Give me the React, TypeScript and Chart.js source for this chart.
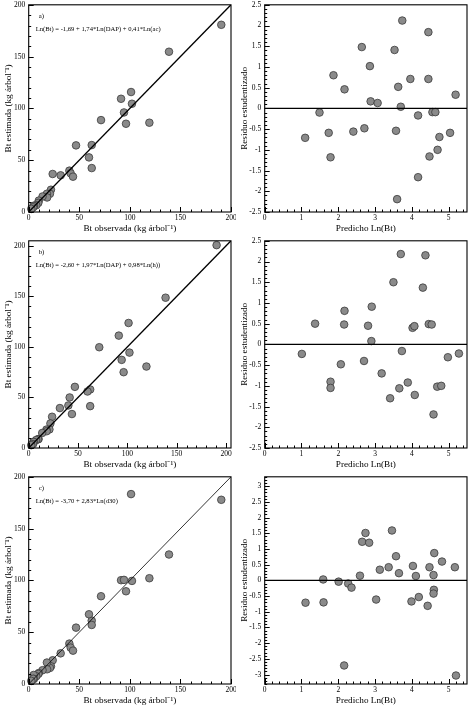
import React, { useEffect, useRef } from "react";
import { Chart, registerables } from "chart.js";

Chart.register(...registerables);

// ---------- data ----------
const observed = [190.4, 138.7, 101.2, 91.3, 102.1, 94.2, 96.2, 119.3, 71.5, 46.8, 62.3, 59.6, 62.3, 23.7, 31.6, 40.2, 41.5, 43.8, 22.0, 21.0, 18.0, 18.2, 13.7, 10.0, 9.5, 7.5, 4.9, 5.2, 4.4, 2.6];
const estimatedA = [180.7, 154.7, 115.8, 109.3, 104.5, 96.1, 85.2, 86.2, 88.7, 64.3, 64.6, 52.7, 42.4, 36.7, 35.4, 39.9, 37.3, 34.1, 21.5, 17.6, 17.6, 14.0, 15.0, 11.0, 8.8, 6.5, 6.0, 5.8, 4.5, 3.0];
const estimatedB = [200.7, 148.7, 123.7, 111.2, 94.4, 87.2, 75.0, 80.6, 99.7, 60.5, 57.9, 55.9, 41.4, 30.9, 39.5, 42.1, 50.0, 33.6, 24.3, 18.4, 18.2, 16.6, 14.9, 8.8, 8.7, 7.9, 6.0, 6.0, 3.9, 2.8];
const estimatedC = [177.8, 125.0, 183.3, 100.2, 99.5, 100.5, 89.5, 102.1, 84.7, 54.4, 61.2, 67.3, 57.0, 22.9, 29.6, 39.0, 35.1, 32.2, 17.1, 15.5, 20.7, 14.2, 13.3, 10.6, 9.7, 7.5, 8.7, 4.9, 5.0, 3.0];

const predictedA = [1.10, 1.49, 1.74, 1.79, 1.87, 2.17, 2.41, 2.64, 2.71, 2.86, 2.88, 3.07, 3.53, 3.57, 3.60, 3.63, 3.70, 3.74, 3.96, 4.17, 4.17, 4.45, 4.45, 4.48, 4.56, 4.64, 4.70, 4.75, 5.04, 5.19];
const residualA = [-0.71, -0.10, -0.59, -1.18, 0.80, 0.46, -0.56, 1.48, -0.48, 1.02, 0.17, 0.13, 1.41, -0.54, -2.19, 0.52, 0.04, 2.12, 0.71, -0.17, -1.66, 0.71, 1.84, -1.16, -0.09, -0.09, -1.00, -0.69, -0.59, 0.33];
const predictedB = [1.37, 2.17, 2.16, 2.81, 2.91, 2.90, 3.50, 3.70, 4.30, 4.37, 4.02, 4.07, 4.46, 4.54, 1.01, 2.07, 2.70, 1.79, 1.79, 3.18, 3.73, 3.41, 3.66, 3.89, 4.08, 4.59, 4.69, 4.80, 4.98, 5.28];
const residualB = [0.50, 0.81, 0.48, 0.45, 0.91, 0.08, 1.50, 2.18, 1.37, 2.15, 0.40, 0.44, 0.49, 0.48, -0.23, -0.48, -0.40, -0.90, -1.05, -0.70, -0.16, -1.30, -1.06, -0.92, -1.22, -1.69, -1.02, -1.00, -0.31, -0.22];
const predictedC = [1.11, 1.59, 1.60, 2.01, 2.27, 2.36, 2.16, 2.59, 2.65, 2.74, 2.84, 3.03, 3.13, 3.37, 3.46, 3.57, 3.65, 4.03, 3.99, 4.11, 4.19, 4.43, 4.48, 4.59, 4.60, 4.59, 4.61, 4.82, 5.17, 5.20];
const residualC = [-0.71, 0.03, -0.70, -0.04, -0.10, -0.23, -2.71, 0.15, 1.23, 1.51, 1.20, -0.61, 0.34, 0.42, 1.59, 0.77, 0.23, 0.46, -0.67, 0.14, -0.53, -0.81, 0.42, 0.17, -0.30, -0.42, 0.87, 0.60, 0.42, -3.03];

const biomassTicks = [0, 50, 100, 150, 200];
const predictedTicks = [0, 1, 2, 3, 4, 5];
const residualTicksAB = [-2.5, -2, -1.5, -1, -0.5, 0, 0.5, 1, 1.5, 2, 2.5];
const residualTicksC = [-3, -2.5, -2, -1.5, -1, -0.5, 0, 0.5, 1, 1.5, 2, 2.5, 3];

const panelLabels = ["a)", "b)", "c)"];
const equations = [
  "Ln(Bt) = -1,69 + 1,74*Ln(DAP) + 0,41*Ln(ac)",
  "Ln(Bt) = -2,60 + 1,97*Ln(DAP) + 0,98*Ln(h))",
  "Ln(Bt) = -3,70 + 2,83*Ln(d30)",
];

const xTitleObs = "Bt observada (kg árbol⁻¹)";
const yTitleEst = "Bt estimada (kg árbol⁻¹)";
const xTitlePred = "Predicho Ln(Bt)";
const yTitleRes = "Residuo estudentizado";

// ---------- style ----------
const FONT = "'Liberation Serif', 'Times New Roman', serif";
const SIZE = 236;

type PanelCfg = {
  xs: number[];
  ys: number[];
  refLine: { x: number[]; y: number[] };
  refWidth: number;
  xMin: number; xMax: number; yMin: number; yMax: number;
  xTicks: number[]; yTicks: number[];
  xMinor: number; yMinor: number;
  xMajor: number; yMajor: number;
  xTitle: string; yTitle: string;
  label?: string; equation?: string;
};

function decoPlugin(cfg: PanelCfg) {
  return {
    id: "deco",
    afterDraw(chart: any) {
      const { ctx, chartArea: a, scales } = chart;
      ctx.save();
      ctx.strokeStyle = "#000";
      ctx.lineWidth = 1;
      // minor & major ticks, inward
      const drawTicks = (min: number, max: number, minor: number, major: number, horiz: boolean) => {
        const start = Math.ceil(min / minor - 1e-6);
        const end = Math.floor(max / minor + 1e-6);
        for (let i = start; i <= end; i++) {
          const v = i * minor;
          const r = v / major;
          const isMajor = Math.abs(r - Math.round(r)) < 1e-6;
          const len = isMajor ? 5 : 2.5;
          ctx.beginPath();
          if (horiz) {
            const px = Math.round(scales.x.getPixelForValue(v)) + 0.5;
            ctx.moveTo(px, a.bottom);
            ctx.lineTo(px, a.bottom - len);
          } else {
            const py = Math.round(scales.y.getPixelForValue(v)) + 0.5;
            ctx.moveTo(a.left, py);
            ctx.lineTo(a.left + len, py);
          }
          ctx.stroke();
        }
      };
      drawTicks(cfg.xMin, cfg.xMax, cfg.xMinor, cfg.xMajor, true);
      drawTicks(cfg.yMin, cfg.yMax, cfg.yMinor, cfg.yMajor, false);
      ctx.lineWidth = 1.1;
      ctx.strokeRect(a.left, a.top, a.right - a.left, a.bottom - a.top);
      if (cfg.label || cfg.equation) {
        ctx.fillStyle = "#000";
        ctx.textBaseline = "middle";
        ctx.textAlign = "left";
        ctx.font = `6.8px ${FONT}`;
        if (cfg.label) ctx.fillText(cfg.label, a.left + 10, a.top + 11.5);
        ctx.font = `6.6px ${FONT}`;
        if (cfg.equation) ctx.fillText(cfg.equation, a.left + 7, a.top + 24.5);
      }
      ctx.restore();
    },
  };
}

function buildConfig(cfg: PanelCfg): any {
  const tickFont = { family: FONT, size: 7.5 };
  const titleFont = { family: FONT, size: 9.2 };
  return {
    type: "scatter",
    data: {
      datasets: [
        {
          type: "line",
          data: cfg.refLine.x.map((x, i) => ({ x, y: cfg.refLine.y[i] })),
          borderColor: "#000",
          borderWidth: cfg.refWidth,
          pointRadius: 0,
          fill: false,
          order: 0,
        },
        {
          type: "scatter",
          data: cfg.xs.map((x, i) => ({ x, y: cfg.ys[i] })),
          backgroundColor: "#8a8a8a",
          borderColor: "#3a3a3a",
          borderWidth: 0.8,
          pointRadius: 3.8,
          clip: false,
          order: 1,
        },
      ],
    },
    options: {
      responsive: false,
      animation: false,
      events: [],
      layout: { padding: { top: 4.7, right: 5, bottom: 0, left: 0 } },
      plugins: { legend: { display: false }, tooltip: { enabled: false } },
      scales: {
        x: {
          type: "linear",
          min: cfg.xMin,
          max: cfg.xMax,
          afterBuildTicks: (s: any) => {
            s.ticks = cfg.xTicks.map((v) => ({ value: v }));
          },
          afterFit: (s: any) => {
            s.height = 24;
            s.paddingLeft = 0; s.paddingRight = 0; s.paddingTop = 0; s.paddingBottom = 0;
          },
          grid: { display: false, drawTicks: false },
          border: { display: false },
          ticks: {
            autoSkip: false,
            maxRotation: 0,
            padding: 2,
            color: "#000",
            font: tickFont,
            callback: (v: any) => String(v),
          },
          title: { display: true, text: cfg.xTitle, color: "#000", font: titleFont, padding: { top: 0, bottom: 2 } },
        },
        y: {
          type: "linear",
          min: cfg.yMin,
          max: cfg.yMax,
          afterBuildTicks: (s: any) => {
            s.ticks = cfg.yTicks.map((v) => ({ value: v }));
          },
          afterFit: (s: any) => {
            s.width = 28.7;
            s.paddingLeft = 0; s.paddingRight = 0; s.paddingTop = 0; s.paddingBottom = 0;
          },
          grid: { display: false, drawTicks: false },
          border: { display: false },
          ticks: {
            autoSkip: false,
            padding: 3.5,
            color: "#000",
            font: tickFont,
            callback: (v: any) => String(v),
          },
          title: { display: true, text: cfg.yTitle, color: "#000", font: titleFont, padding: { top: 3.5, bottom: 0 } },
        },
      },
    },
    plugins: [decoPlugin(cfg)],
  };
}

function Panel({ left, top, cfg }: { left: number; top: number; cfg: PanelCfg }) {
  const ref = useRef<HTMLCanvasElement>(null);
  useEffect(() => {
    const chart = new Chart(ref.current as HTMLCanvasElement, buildConfig(cfg));
    return () => chart.destroy();
  }, []);
  return (
    <canvas
      ref={ref}
      width={SIZE}
      height={SIZE}
      style={{ position: "absolute", left, top, width: SIZE, height: SIZE }}
    />
  );
}

function obsPanel(ys: number[], max: number, refWidth: number, idx: number): PanelCfg {
  return {
    xs: observed,
    ys,
    refLine: { x: [0, max], y: [0, max] },
    refWidth,
    xMin: 0, xMax: max, yMin: 0, yMax: max,
    xTicks: biomassTicks, yTicks: biomassTicks,
    xMinor: 10, yMinor: 10, xMajor: 50, yMajor: 50,
    xTitle: xTitleObs, yTitle: yTitleEst,
    label: panelLabels[idx], equation: equations[idx],
  };
}

function resPanel(xs: number[], ys: number[], yLim: number, yTicks: number[]): PanelCfg {
  return {
    xs,
    ys,
    refLine: { x: [0, 5.5], y: [0, 0] },
    refWidth: 1.3,
    xMin: 0, xMax: 5.5, yMin: -yLim, yMax: yLim,
    xTicks: predictedTicks, yTicks,
    xMinor: 0.2, yMinor: 0.1, xMajor: 1, yMajor: 0.5,
    xTitle: xTitlePred, yTitle: yTitleRes,
  };
}

export default function App() {
  const panels: { left: number; top: number; cfg: PanelCfg }[] = [
    { left: 0, top: 0, cfg: obsPanel(estimatedA, 200, 1.3, 0) },
    { left: 236, top: 0, cfg: resPanel(predictedA, residualA, 2.5, residualTicksAB) },
    { left: 0, top: 236, cfg: obsPanel(estimatedB, 205, 1.3, 1) },
    { left: 236, top: 236, cfg: resPanel(predictedB, residualB, 2.5, residualTicksAB) },
    { left: 0, top: 472, cfg: obsPanel(estimatedC, 200, 0.8, 2) },
    { left: 236, top: 472, cfg: resPanel(predictedC, residualC, 3.3, residualTicksC) },
  ];
  return (
    <div style={{ position: "absolute", left: 0, top: 0, width: 472, height: 708, background: "#fff" }}>
      {panels.map((p, i) => (
        <Panel key={i} left={p.left} top={p.top} cfg={p.cfg} />
      ))}
    </div>
  );
}
